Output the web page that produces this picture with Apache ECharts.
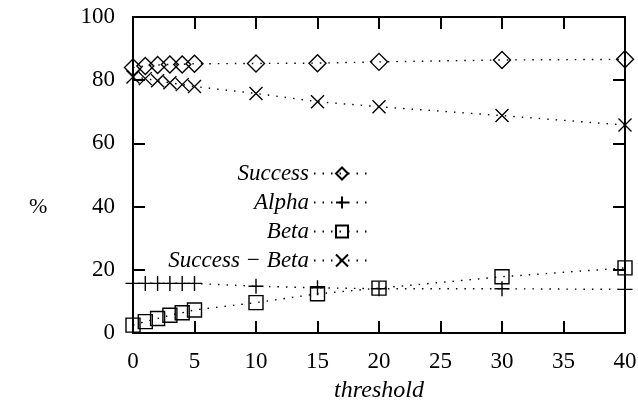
<!DOCTYPE html>
<html><head><meta charset="utf-8">
<script src="https://cdn.jsdelivr.net/npm/echarts@6/dist/echarts.min.js"></script>
<style>html,body{margin:0;padding:0;background:#fff}#c{width:638px;height:403px}</style>
</head><body><div id="c"></div>
<script>
const thresholds = [0, 1, 2, 3, 4, 5, 10, 15, 20, 30, 40];
const success     = [84, 84.5, 84.8, 85, 85, 85.2, 85.3, 85.4, 85.8, 86.4, 86.6];
const alpha       = [15.7, 15.7, 15.7, 15.7, 15.7, 15.7, 14.8, 14.3, 14.0, 14.0, 13.8];
const beta        = [2.5, 3.6, 4.6, 5.6, 6.4, 7.3, 9.6, 12.4, 14.2, 17.8, 20.6];
const successBeta = [81, 80.5, 79.8, 79.2, 78.6, 78, 75.8, 73.2, 71.6, 68.8, 65.8];
const xTicks = [0, 5, 10, 15, 20, 25, 30, 35, 40];
const yTicks = [0, 20, 40, 60, 80, 100];
const names = ['Success', 'Alpha', 'Beta', 'Success \u2212 Beta'];

const FONT = 'Liberation Serif';
const pair = arr => thresholds.map((t, i) => [t, arr[i]]);
const clear = 'rgba(0,0,0,0)';
function mk(name, data, symbol, size, dash) {
  return {
    name, type: 'line', data: pair(data), symbol, symbolSize: size,
    showSymbol: true,
    itemStyle: { color: clear, borderColor: '#000', borderWidth: 1.4 },
    lineStyle: { color: '#000', width: 1.4, type: dash },
    emphasis: { disabled: true }, animation: false, z: 3
  };
}
const axisCommon = {
  type: 'value',
  axisLine: { show: true, onZero: false, lineStyle: { color: '#000', width: 2 } },
  axisTick: { show: true, inside: true, length: 12, lineStyle: { color: '#000', width: 2 } },
  splitLine: { show: false }
};
const chart = echarts.init(document.getElementById('c'));
chart.setOption({
  animation: false,
  backgroundColor: '#fff',
  grid: { left: 133, right: 13, top: 17, bottom: 70, containLabel: false, outerBoundsMode: 'none' },
  graphic: [{
    type: 'text', left: 29, top: 196,
    style: { text: '%', fill: '#000', font: '22px "Liberation Serif"' }
  }],
  xAxis: [
    Object.assign({}, axisCommon, {
      min: xTicks[0], max: xTicks[xTicks.length - 1], interval: xTicks[1] - xTicks[0], position: 'bottom',
      axisLabel: { color: '#000', fontFamily: FONT, fontSize: 23, margin: 17 },
      name: 'threshold', nameLocation: 'middle', nameGap: 46,
      nameTextStyle: { color: '#000', fontFamily: FONT, fontStyle: 'italic', fontSize: 24 }
    }),
    Object.assign({}, axisCommon, {
      min: xTicks[0], max: xTicks[xTicks.length - 1], interval: xTicks[1] - xTicks[0], position: 'top',
      axisLabel: { show: false }
    })
  ],
  yAxis: [
    Object.assign({}, axisCommon, {
      min: yTicks[0], max: yTicks[yTicks.length - 1], interval: yTicks[1] - yTicks[0], position: 'left',
      axisLabel: { color: '#000', fontFamily: FONT, fontSize: 23, margin: 18 }
    }),
    Object.assign({}, axisCommon, {
      min: yTicks[0], max: yTicks[yTicks.length - 1], interval: yTicks[1] - yTicks[0], position: 'right',
      axisLabel: { show: false }
    })
  ],
  legend: {
    orient: 'vertical', align: 'right', right: 262, top: 157,
    itemWidth: 56, itemHeight: 15, itemGap: 6,
    textStyle: { color: '#000', fontFamily: FONT, fontStyle: 'italic', fontSize: 23, lineHeight: 20 },
    data: names
  },
  series: [
    mk(names[0], success, 'diamond', 17, [1.5, 7]),
    mk(names[1], alpha, 'path://M0,5L10,5M5,0L5,10', 15, [1.5, 7]),
    mk(names[2], beta, 'rect', 14, [1.5, 7]),
    mk(names[3], successBeta, 'path://M0,0L10,10M10,0L0,10', 13, [1.5, 7])
  ]
});
</script></body></html>
